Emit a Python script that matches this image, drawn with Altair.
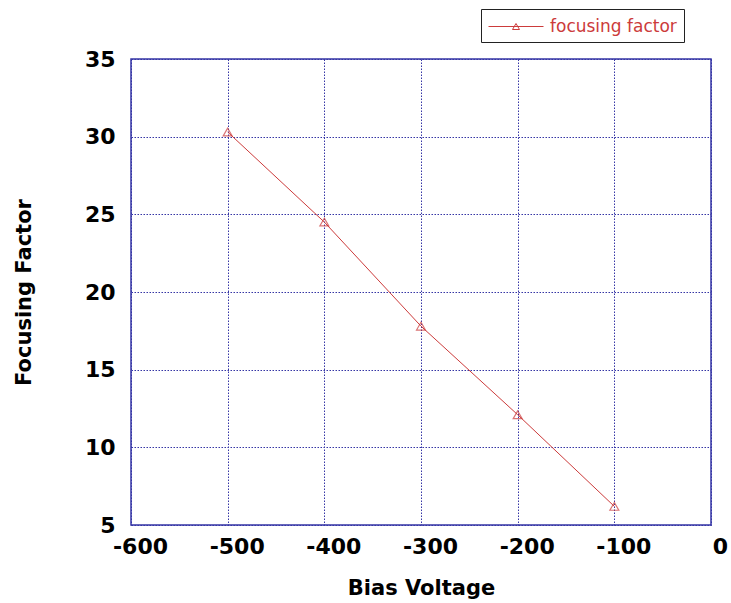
import altair as alt
import pandas as pd

bias_voltage = [-500, -400, -300, -200, -100]
focusing_factor = [30.3, 24.5, 17.8, 12.1, 6.2]
series_name = ["focusing factor"] * 5
x_ticks = [-600, -500, -400, -300, -200, -100, 0]
y_ticks = [5, 10, 15, 20, 25, 30, 35]

df = pd.DataFrame({"v": bias_voltage, "f": focusing_factor, "s": series_name})

RED = "#cc3b3b"
BLUE = "#3535a5"
FONT = "DejaVu Sans"

x = alt.X("v:Q", scale=alt.Scale(domain=[-600, 0], nice=False),
          axis=alt.Axis(values=x_ticks, title="Bias Voltage", labelPadding=11,
                        titlePadding=20, labelExpr="toString(datum.value)",
                        labelFlush=False, labelOffset=9, labelBound=False))
y = alt.Y("f:Q", scale=alt.Scale(domain=[5, 35], nice=False),
          axis=alt.Axis(values=y_ticks, title="Focusing Factor", labelPadding=16,
                        titlePadding=50, labelExpr="toString(datum.value)",
                        labelFlush=False))

# symbol path in units of r = 10 px: a 55 px line with a small hollow triangle
legend_path = "M-1,0H4.5M1.4,0.3L1.75,-0.3L2.1,0.3Z"

line = alt.Chart(df).mark_line(strokeWidth=1).encode(
    x=x, y=y,
    color=alt.Color("s:N", scale=alt.Scale(range=[RED]),
                    legend=alt.Legend(title=None, orient="none", legendX=350, legendY=-50,
                                      symbolType=legend_path, symbolSize=400,
                                      symbolStrokeWidth=1, symbolFillColor="transparent",
                                      symbolStrokeColor=RED,
                                      labelColor=RED, labelFontSize=17, labelFont=FONT,
                                      labelOffset=41, strokeColor="#222222",
                                      padding=7, fillColor="white"))
)

points = alt.Chart(df).mark_point(shape="triangle-up", filled=False, size=80,
                                  strokeWidth=1.2, color=RED).encode(x=x, y=y)

chart = (line + points).properties(
    width=580, height=466,
    background="white",
    autosize=alt.AutoSizeParams(type="none"),
    padding={"left": 131, "top": 59, "right": 20, "bottom": 78},
).configure_view(
    stroke=BLUE, strokeWidth=1.5
).configure_axis(
    domain=False, ticks=False,
    grid=True, gridColor=BLUE, gridDash=[1.5, 1.5], gridWidth=1, gridOpacity=1,
    labelFont=FONT, labelFontSize=22, labelFontWeight="bold", labelColor="black",
    titleFont=FONT, titleFontSize=21, titleFontWeight="bold", titleColor="black",
)

chart.save("out.html", embed_options={"renderer": "svg", "actions": False})
